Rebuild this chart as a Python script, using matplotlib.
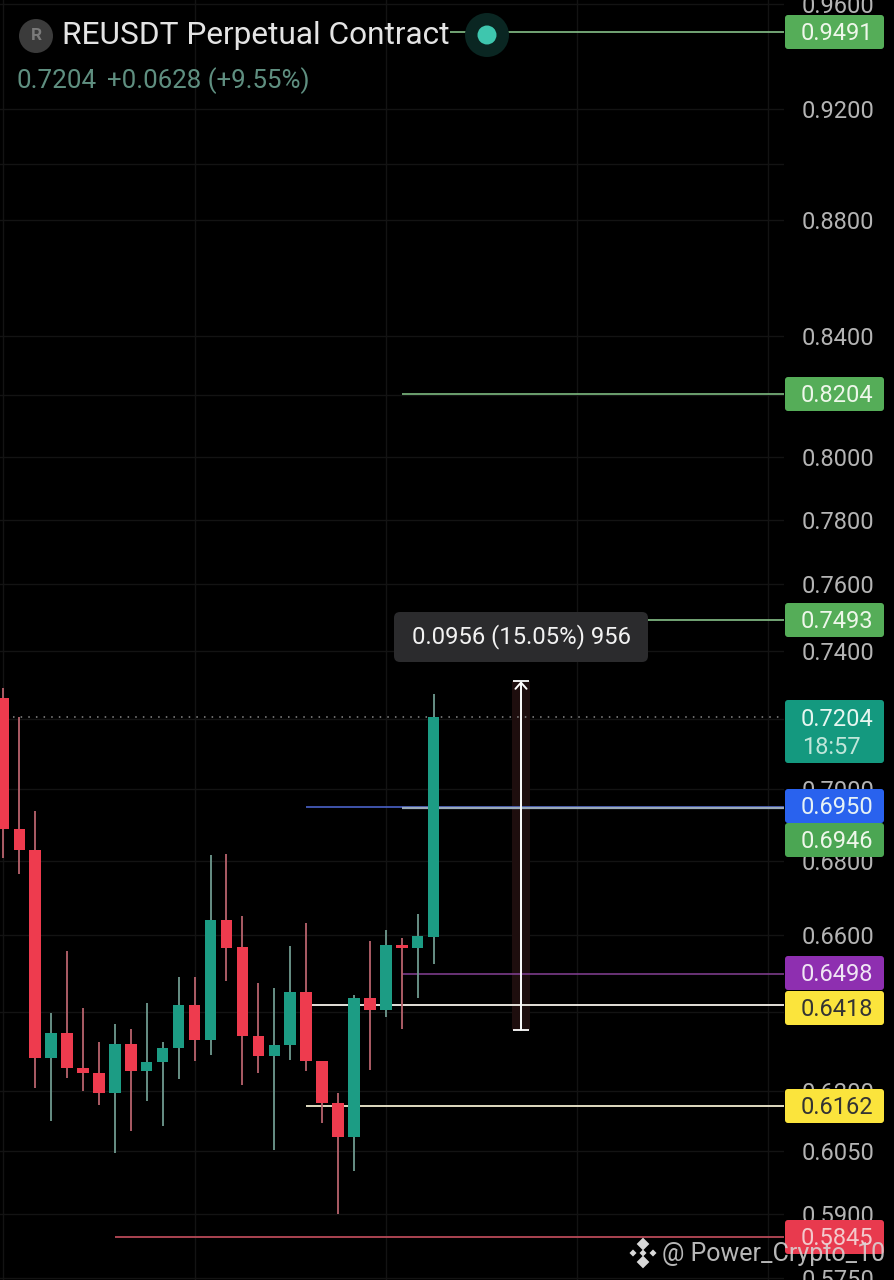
import matplotlib
matplotlib.use("Agg")
import matplotlib.pyplot as plt
from matplotlib.patches import FancyBboxPatch, Circle, Rectangle
from matplotlib.transforms import IdentityTransform

plt.rcParams['font.family'] = ['Roboto', 'DejaVu Sans']

# velas
opens  = [.7260, .6888, .6829, .6282, .6344, .6256, .6243, .6193, .6317, .6250, .6271, .6306, .6416, .6327,
          .6640, .6569, .6337, .6287, .6315, .6451, .6273, .6169, .6085, .6436, .6404, .6575, .6567, .6596]
closes = [.6888, .6829, .6282, .6344, .6256, .6243, .6193, .6317, .6250, .6272, .6306, .6416, .6327, .6640,
          .6567, .6337, .6287, .6315, .6451, .6273, .6168, .6085, .6436, .6404, .6575, .6567, .6597, .7204]
highs  = [.7290, .7205, .6939, .6396, .6559, .6410, .6321, .6367, .6355, .6421, .6322, .6490, .6490, .6816,
          .6819, .6650, .6475, .6462, .6572, .6633, .6273, .6193, .6443, .6585, .6614, .6592, .6656, .7273]
lows   = [.6808, .6764, .6207, .6125, .6231, .6200, .6164, .6045, .6100, .6175, .6113, .6230, .6274, .6289,
          .6479, .6215, .6245, .6054, .6276, .6248, .6119, .5900, .6003, .6251, .6387, .6356, .6436, .6523]

# niveles: precio, vela donde empieza, color de linea, color de etiqueta, color de texto, centro etiqueta en px
level_prices = [0.9491, 0.8204, 0.7493, 0.6950, 0.6946, 0.6498, 0.6418, 0.6162, 0.5845]
level_start  = [28, 25, 25, 19, 25, 25, 19, 19, 7]
level_lines  = ['#86c088', '#7dba80', '#86c088', '#4a62c8', '#9aa9b8', '#7b3c8a', '#f6f2ea', '#f2ecd0', '#b84a58']
level_widths = [1.2, 1.2, 1.2, 1.2, 1.6, 1.2, 1.3, 1.3, 1.3]
level_boxes  = ['#55ad58', '#55ad58', '#55ad58', '#2962ee', '#4ba653', '#8e2fb0', '#fbe43c', '#fbe43c', '#e83a4e']
level_texts  = ['#eef7ea', '#eef7ea', '#eef7ea', '#e6f2f6', '#eef7ea', '#f0e6f4', '#333333', '#333333', '#f3c9cc']
level_ypx    = [32, 394, 620, 806, 840, 973, 1008, 1106, 1237]

last_price = 0.7204
measure_low = 0.6354
measure_high = 0.7310

grid_ticks = [0.96, 0.92, 0.90, 0.88, 0.84, 0.82, 0.80, 0.78, 0.76, 0.74, 0.72, 0.70, 0.68, 0.66, 0.64, 0.62,
              0.605, 0.59, 0.575]
grid_labels = ['0.9600', '0.9200', '', '0.8800', '0.8400', '', '0.8000', '0.7800', '0.7600', '0.7400', '',
               '0.7000', '0.6800', '0.6600', '', '0.6200', '0.6050', '0.5900', '0.5750']

W, H = 894, 1280
fig = plt.figure(figsize=(W / 100, H / 100), dpi=100, facecolor='black')
ax = fig.add_axes([0, 0, 784 / W, 1], facecolor='black')
ax.set_yscale('log')
ax.set_ylim(0.5745, 0.9614)
ax.set_xlim(-0.207, 48.98)
ax.minorticks_off()
ax.set_yticks(grid_ticks)
ax.set_yticklabels(grid_labels)
ax.minorticks_off()
ax.set_xticks([0, 12, 24, 36, 48])
ax.set_xticklabels([])
ax.yaxis.tick_right()
ax.tick_params(axis='y', length=0, pad=13, labelsize=17, labelcolor='#b4b4b4')
ax.tick_params(axis='x', length=0)
ax.grid(True, color='#131313', lw=1)
ax.set_axisbelow(True)
for s in ax.spines.values():
    s.set_visible(False)

# lineas de niveles
for p, st, c, w in zip(level_prices, level_start, level_lines, level_widths):
    ax.hlines(p, st, 49, color=c, lw=w, zorder=3)
ax.hlines(last_price, 0.6, 49, color='#8a8a8a', lw=1.1, linestyles=(0, (1, 4)), zorder=3)

# velas encima de las lineas
for i in range(len(opens)):
    up = closes[i] >= opens[i]
    cuerpo = '#1c9c84' if up else '#ee3b4e'
    mecha = '#6f9a8f' if up else '#b9636d'
    ax.vlines(i, lows[i], highs[i], color=mecha, lw=1.3, zorder=4)
    ax.bar(i, abs(closes[i] - opens[i]), bottom=min(opens[i], closes[i]), width=0.72, color=cuerpo, zorder=5)

# medicion
ax.bar(32.48, measure_high - measure_low, bottom=measure_low, width=1.1, color='#1e0e0e', zorder=2)
ax.annotate('', xy=(32.48, measure_high), xytext=(32.48, measure_low), zorder=6,
            arrowprops=dict(arrowstyle='->,head_length=0.45,head_width=0.4', color='white', lw=1.4,
                            shrinkA=0, shrinkB=0))
ax.hlines([measure_low, measure_high], 31.98, 32.98, color='white', lw=1.3, zorder=6)


def caja(x0, y0, x1, y1, color, r=3, z=5):
    # coordenadas en px con origen arriba a la izquierda
    b = FancyBboxPatch((x0 + r, H - y1 + r), x1 - x0 - 2 * r, y1 - y0 - 2 * r,
                       boxstyle='round,pad=%d,rounding_size=%d' % (r, r),
                       fc=color, ec='none', transform=IdentityTransform(), zorder=z)
    fig.add_artist(b)


def texto(x, y, s, size, color, ha='center', weight='normal', z=6, alpha=1):
    fig.text(x / W, 1 - y / H, s, fontsize=size, color=color, ha=ha, va='center', fontweight=weight,
             zorder=z, alpha=alpha)


# etiquetas de la derecha
for p, bc, tc, yc in zip(level_prices, level_boxes, level_texts, level_ypx):
    caja(785, yc - 17, 884, yc + 17, bc)
    texto(873, yc + 1.5, '%.4f' % p, 17, tc, ha='right')

caja(785, 700, 884, 763, '#14997f')
texto(873, 719, '0.7204', 17, '#e6f6f0', ha='right')
texto(802, 747, '18:57', 17, '#bfe6da', ha='left')

# tooltip
caja(394, 612, 648, 662, '#2b2b2d', r=6)
texto(521, 637, '0.0956 (15.05%) 956', 17.2, '#f2f2f2')

# cabecera
fig.add_artist(Circle((36, H - 36), 17, fc='#3b3b3b', ec='none', transform=IdentityTransform(), zorder=5))
texto(36, 36, 'R', 12.5, '#7a7a7a', weight='bold')
texto(62, 35.5, 'REUSDT Perpetual Contract', 22.8, '#e4e4e4', ha='left')
texto(16, 81, '0.7204', 18.7, '#5f8f80', ha='left')
texto(107, 81, '+0.0628 (+9.55%)', 18.6, '#5f8f80', ha='left')
fig.add_artist(Circle((487, H - 35), 22, fc='#0a2622', ec='none', transform=IdentityTransform(), zorder=5))
fig.add_artist(Circle((487, H - 35), 9.5, fc='#3ec6ae', ec='none', transform=IdentityTransform(), zorder=6))

# marca de agua
for dx, dy, s in [(0, -9, 9), (0, 9, 9), (-10, 0, 5), (10, 0, 5), (0, 0, 5)]:
    fig.add_artist(Rectangle((643 + dx - s / 2, H - 1253 - dy - s / 2), s, s, angle=45,
                             rotation_point='center', fc='#d8d8d8', ec='none',
                             transform=IdentityTransform(), zorder=7))
texto(662, 1254, '@ Power_Crypto_10', 18, '#d8d8d8', ha='left', z=7, alpha=0.85)

fig.savefig('out.png', dpi=100, facecolor='black')
